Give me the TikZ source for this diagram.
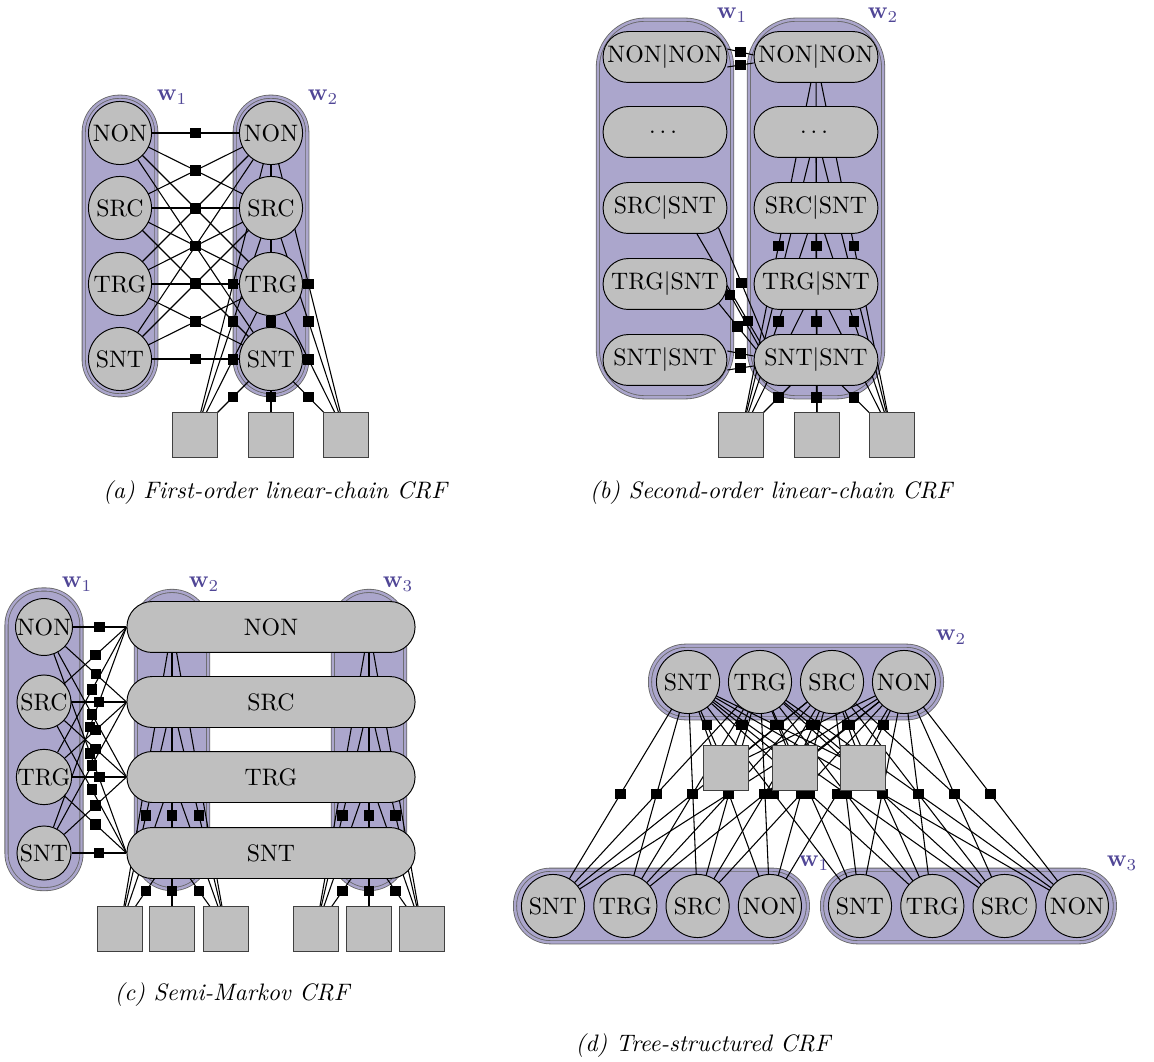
\documentclass[tikz,border=0pt]{standalone}
\usepackage{amsmath,amssymb}
\usepackage{tikz}
\usetikzlibrary{positioning,calc,fit,shapes.misc}
\usepackage{xcolor}

\definecolor{bandcol}{RGB}{171,166,204}
\definecolor{wcol}{RGB}{80,70,150}
\pgfdeclarelayer{bands}
\pgfdeclarelayer{edges}
\pgfdeclarelayer{facs}
\pgfsetlayers{bands,edges,facs,main}

\tikzset{
  lab/.style={circle,draw,fill=gray!50,minimum size=26.5pt,inner sep=0pt},
  slab/.style={lab,minimum size=22.7pt},
  hid/.style={circle,minimum size=22.7pt,inner sep=0pt},
  pill/.style={rectangle,rounded corners=10.6pt,draw,fill=gray!50,minimum width=52pt,minimum height=21.4pt,inner sep=0pt},
  bigpill/.style={pill,minimum width=121pt},
  obs/.style={rectangle,draw=black!75,fill=gray!50,minimum size=19pt,inner sep=0pt},
  fac/.style={rectangle,fill=black,minimum size=4.4pt,inner sep=0pt},
  fline/.style={line width=0.45pt},
  band/.style={rectangle,draw=black!60,line width=0.35pt,double=bandcol,double distance=1pt,fill=bandcol,rounded corners=15pt,inner sep=1.8pt},
  wlab/.style={text=wcol,inner sep=0pt},
  capt/.style={font=\itshape,inner sep=0pt}
}

% factor edge: #2 name of the factor, #3 -- #4 the line, #1 where the factor sits
\newcommand\fac[4][.5]{%
  \begin{pgfonlayer}{edges}\draw[fline] #3 -- #4;\end{pgfonlayer}%
  \begin{pgfonlayer}{facs}\path #3 -- node[fac,pos=#1] (#2) {} #4;\end{pgfonlayer}}

\begin{document}
\begin{tikzpicture}[x=0.42pt,y=-0.42pt]
\useasboundingbox (0,0) rectangle (1154,1062);

% (a) first-order chain
\foreach \nm/\txt/\yy in {non/NON/133,src/SRC/208,trg/TRG/284,snt/SNT/359}{
  \node[lab] (a1\nm) at (120,\yy) {\txt};
  \node[lab] (a2\nm) at (271,\yy) {\txt};
}
\foreach \o/\xx in {1/195,2/271,3/346}{\node[obs] (ao\o) at (\xx,435) {};}
\begin{pgfonlayer}{bands}
  \node[band,fit=(a1non)(a1snt)] (aw1) {};
  \node[band,fit=(a2non)(a2snt)] (aw2) {};
\end{pgfonlayer}
\node[wlab] (aw1lab) at (172,97) {$\mathbf{w}_1$};
\node[wlab] (aw2lab) at (323,97) {$\mathbf{w}_2$};
\foreach \a in {non,src,trg,snt}{
  \foreach \b in {non,src,trg,snt}{\fac{afw\a\b}{(a1\a.center)}{(a2\b.center)}}}
\foreach \o in {1,2,3}{
  \foreach \b in {non,src,trg,snt}{\fac{afo\o\b}{(ao\o.center)}{(a2\b.center)}}}
\node[capt] (acap) at (275,493) {(a) First-order linear-chain CRF};

% (b) second-order chain
\foreach \nm/\txt/\yy in {nonnon/NON|NON/57,dots/$\dots$/132,srcsnt/SRC|SNT/208,trgsnt/TRG|SNT/284,sntsnt/SNT|SNT/360}{
  \node[pill] (b1\nm) at (665,\yy) {\txt};
  \node[pill] (b2\nm) at (816,\yy) {\txt};
}
\foreach \o/\xx in {1/741,2/817,3/892}{\node[obs] (bo\o) at (\xx,435) {};}
\begin{pgfonlayer}{bands}
  \node[band,fit=(b1nonnon)(b1sntsnt),inner xsep=2pt,inner ysep=4.8pt,rounded corners=20pt] (bw1) {};
  \node[band,fit=(b2nonnon)(b2sntsnt),inner xsep=2pt,inner ysep=4.8pt,rounded corners=20pt] (bw2) {};
\end{pgfonlayer}
\node[wlab] (bw1lab) at (732,15) {$\mathbf{w}_1$};
\node[wlab] (bw2lab) at (883,15) {$\mathbf{w}_2$};
\fac{bfn1}{($(b1nonnon.east)+(0,-8)$)}{($(b2nonnon.west)+(0,-2)$)}
\fac{bfn2}{($(b1nonnon.east)+(0,10)$)}{($(b2nonnon.west)+(0,6)$)}
\fac[.8]{bfr1}{($(b1srcsnt.south)+(32,0)$)}{($(b2sntsnt.west)+(7,-17)$)}
\fac{bfr2}{($(b1srcsnt.east)+(-9,19.5)$)}{($(b2sntsnt.west)+(11,-21)$)}
\fac[.12]{bft1}{($(b1trgsnt.east)+(-1,4)$)}{($(b2sntsnt.west)+(5,-14)$)}
\fac{bft2}{($(b1trgsnt.east)+(-9,19)$)}{($(b2sntsnt.west)+(3,-10)$)}
\fac{bfs1}{($(b1sntsnt.east)+(0,-9)$)}{($(b2sntsnt.west)+(0,-4)$)}
\fac{bfs2}{($(b1sntsnt.east)+(0,10)$)}{($(b2sntsnt.west)+(0,6)$)}
\foreach \o in {1,2,3}{
  \foreach \b in {nonnon,dots,srcsnt,trgsnt,sntsnt}{\fac{bfo\o\b}{(bo\o.center)}{(b2\b.center)}}}
\node[capt] (bcap) at (771,493) {(b) Second-order linear-chain CRF};

% (c) semi-Markov
\foreach \nm/\txt/\yy in {non/NON/627,src/SRC/702,trg/TRG/777,snt/SNT/853}{
  \node[slab] (c1\nm) at (44,\yy) {\txt};
  \node[hid] (c2\nm) at (172,\yy) {};
  \node[hid] (c3\nm) at (369,\yy) {};
  \node[bigpill] (cb\nm) at (271,\yy) {\txt};
}
\foreach \o/\xx in {1/120,2/172,3/226,4/316,5/369,6/422}{\node[obs] (co\o) at (\xx,929) {};}
\begin{pgfonlayer}{bands}
  \node[band,fit=(c1non)(c1snt),inner sep=3.6pt] (cw1) {};
  \node[band,fit=(c2non)(c2snt),inner sep=3.6pt] (cw2) {};
  \node[band,fit=(c3non)(c3snt),inner sep=3.6pt] (cw3) {};
\end{pgfonlayer}
\node[wlab] (cw1lab) at (77,584) {$\mathbf{w}_1$};
\node[wlab] (cw2lab) at (204,584) {$\mathbf{w}_2$};
\node[wlab] (cw3lab) at (398,584) {$\mathbf{w}_3$};
\foreach \a in {non,src,trg,snt}{
  \foreach \b in {non,src,trg,snt}{\fac{cfw\a\b}{(c1\a)}{(cb\b.west)}}}
\foreach \o in {1,2,3}{
  \foreach \b in {non,src,trg,snt}{\fac{cfo\o\b}{(co\o.center)}{(c2\b.center)}}}
\foreach \o in {4,5,6}{
  \foreach \b in {non,src,trg,snt}{\fac{cfo\o\b}{(co\o.center)}{(c3\b.center)}}}
\node[capt] (ccap) at (232,995) {(c) Semi-Markov CRF};

% (d) tree
\foreach \nm/\txt/\i in {snt/SNT/0,trg/TRG/1,src/SRC/2,non/NON/3}{
  \node[lab] (d2\nm) at (688+72*\i,682) {\txt};
  \node[lab] (d1\nm) at (553+72.3*\i,906) {\txt};
  \node[lab] (d3\nm) at (860+72.3*\i,906) {\txt};
}
\foreach \o/\xx in {1/726,2/795,3/863}{\node[obs] (do\o) at (\xx,768) {};}
\begin{pgfonlayer}{bands}
  \node[band,fit=(d2snt)(d2non),inner xsep=2.5pt,inner ysep=1.8pt] (dw2) {};
  \node[band,fit=(d1snt)(d1non),inner xsep=2.5pt,inner ysep=1.8pt] (dw1) {};
  \node[band,fit=(d3snt)(d3non),inner xsep=2.5pt,inner ysep=1.8pt] (dw3) {};
\end{pgfonlayer}
\node[wlab] (dw2lab) at (951,637) {$\mathbf{w}_2$};
\node[wlab] (dw1lab) at (814,863) {$\mathbf{w}_1$};
\node[wlab] (dw3lab) at (1122,863) {$\mathbf{w}_3$};
\foreach \a in {snt,trg,src,non}{
  \foreach \b in {snt,trg,src,non}{
    \fac{dfl\a\b}{(d2\a.center)}{(d1\b.center)}
    \fac{dfr\a\b}{(d2\a.center)}{(d3\b.center)}}}
\foreach \o in {1,2,3}{
  \foreach \b in {snt,trg,src,non}{\fac{dfo\o\b}{(do\o.center)}{(d2\b.center)}}}
\node[capt] (dcap) at (703,1046) {(d) Tree-structured CRF};
\end{tikzpicture}
\end{document}
